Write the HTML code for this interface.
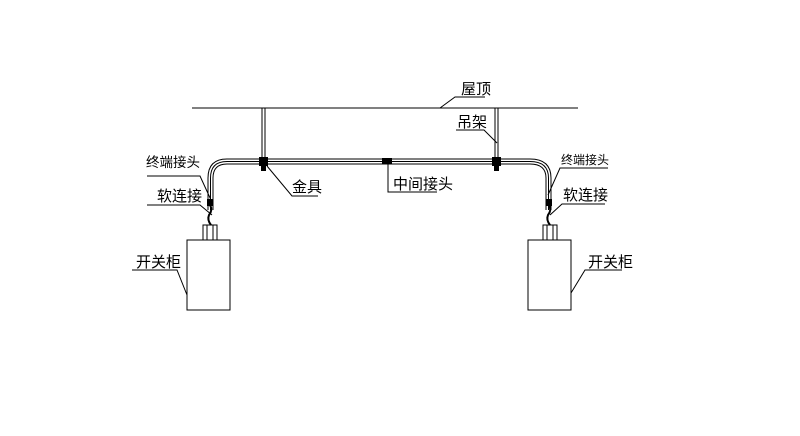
<!DOCTYPE html>
<html><head><meta charset="utf-8"><style>
html,body{margin:0;padding:0;background:#fff;}
svg{display:block}
text{font-family:"Liberation Sans","Noto Sans CJK SC",sans-serif;font-size:15px;fill:#000;}
</style></head><body>
<svg width="800" height="436" viewBox="0 0 800 436" xmlns="http://www.w3.org/2000/svg">
<g stroke="#000" fill="none" stroke-width="1">
<line x1="192" y1="108" x2="578" y2="108"/>
<line x1="262" y1="108" x2="262" y2="160"/><line x1="265" y1="108" x2="265" y2="160"/>
<line x1="495" y1="108" x2="495" y2="160"/><line x1="498" y1="108" x2="498" y2="160"/>
<path d="M208 210 V178 Q208 159 227 159 H530 Q551 159 551 178 V210"/>
<path d="M210.5 210 V178 Q210.5 161.5 227 161.5 H530 Q548.5 161.5 548.5 178 V210"/>
<path d="M213 210 V178 Q213 164 227 164 H530 Q546 164 546 178 V210"/>
<rect x="187" y="240" width="43" height="70"/>
<rect x="203" y="225" width="14" height="15"/>
<line x1="207" y1="225" x2="207" y2="240"/><line x1="213" y1="225" x2="213" y2="240"/>
<rect x="528" y="240" width="43" height="70"/>
<rect x="543" y="225" width="14" height="15"/>
<line x1="547" y1="225" x2="547" y2="240"/><line x1="553" y1="225" x2="553" y2="240"/>
<path d="M210 205 q3 5 -1 10 q-2 5 2 10" stroke-width="2"/>
<path d="M549 205 q3 5 -1 10 q-2 5 2 10" stroke-width="2"/>
<polyline points="440,108 455,97 485,97"/>
<polyline points="456,130 484,130 497,143"/>
<polyline points="388,164 388,192 437,192"/>
<polyline points="267,166 292,196 318,196"/>
<polyline points="147,176 200,176 211,200"/>
<polyline points="147,205 200,205 212,215"/>
<polyline points="132,270 177,270 187,295"/>
<polyline points="608,168 560,168 548,195"/>
<polyline points="605,204 562,204 550,215"/>
<polyline points="622,270 585,270 571,293"/>
</g>
<g fill="#000">
<rect x="259" y="157" width="9" height="9"/>
<rect x="492" y="157" width="9" height="9"/>
<rect x="382" y="158" width="10" height="6"/>
<rect x="207" y="199" width="6" height="7"/>
<rect x="546" y="199" width="6" height="7"/>
<rect x="261" y="166" width="5" height="5"/>
<rect x="494" y="166" width="5" height="5"/>
</g>
<text x="461" y="94">屋顶</text>
<text x="457" y="127">吊架</text>
<text x="393" y="189">中间接头</text>
<text x="292" y="192">金具</text>
<text x="146" y="167" style="font-size:13.5px">终端接头</text>
<text x="157" y="201">软连接</text>
<text x="136" y="267">开关柜</text>
<text x="561" y="164" style="font-size:12px">终端接头</text>
<text x="563" y="200">软连接</text>
<text x="588" y="267">开关柜</text>
</svg>
</body></html>
